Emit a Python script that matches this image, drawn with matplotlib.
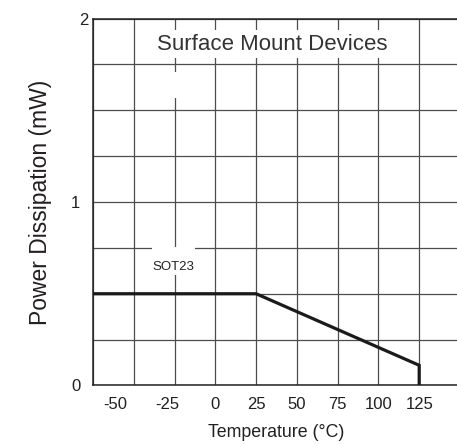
import matplotlib
matplotlib.use('Agg')
import matplotlib.pyplot as plt
from matplotlib.patches import Rectangle
from matplotlib.transforms import ScaledTranslation
from numpy import arange

# derating curve, SOT23
temp = [-75, 25, 125, 125]
power = [0.5, 0.5, 0.11, 0.0]

x_ticks = [-50, -25, 0, 25, 50, 75, 100, 125]
x_labels = ['-50', '-25', '0', '25', '50', '75', '100', '125']
y_ticks = [0, 1, 2]
y_labels = ['0', '1', '2']

title = 'Surface Mount Devices'
series_name = 'SOT23'

text_color = '#231f20'
grid_color = '#4d4d4d'

plt.rcParams['font.family'] = ['Liberation Sans', 'DejaVu Sans']

fig = plt.figure(figsize=(4.57, 4.44), dpi=100)
ax = fig.add_axes([0.2035, 0.1318, 0.803, 0.8265])

ax.plot(temp, power, color='#1a1a1a', lw=2.3, solid_joinstyle='miter', zorder=4)

ax.set_xlim(-75, 150)
ax.set_ylim(0, 2)

ax.set_xticks(x_ticks, x_labels)
ax.set_yticks(y_ticks, y_labels)
ax.set_xticks(arange(-75, 151, 25), minor=True)
ax.set_yticks(arange(0, 2.01, 0.25), minor=True)
ax.grid(which='both', color=grid_color, lw=0.9)
ax.set_axisbelow(True)

ax.tick_params(which='both', length=0)
ax.tick_params(axis='x', pad=8, labelsize=12, labelcolor=text_color)
ax.tick_params(axis='y', pad=9, labelsize=12, labelcolor=text_color)

for s in ax.spines.values():
  s.set_color('#222222')
  s.set_linewidth(1.1)

# the reference puts a few labels off their grid line
x_shift = {'-50': -19, '-25': -7}
for lab in ax.get_xticklabels():
  dx = x_shift.get(lab.get_text(), 0)
  if dx:
    lab.set_transform(lab.get_transform() + ScaledTranslation(dx / 100, 0, fig.dpi_scale_trans))
for lab in ax.get_yticklabels():
  if lab.get_text() == '2':
    lab.set_transform(lab.get_transform() + ScaledTranslation(8 / 100, 0, fig.dpi_scale_trans))

ax.set_xlabel('Temperature (°C)', fontsize=12.8, color=text_color, labelpad=9)
ax.set_ylabel('Power Dissipation (mW)', fontsize=16.5, color=text_color, labelpad=14)

ax.text(0.488, 0.93, title, transform=ax.transAxes, ha='center', va='center',
        fontsize=16, color='#333333', zorder=3,
        bbox=dict(boxstyle='square,pad=0.15', fc='white', ec='none'))

# white masks behind the series label, as in the scanned original
ax.add_patch(Rectangle((-38.8, 0.60), 26.3, 0.155, fc='white', ec='none', zorder=2))
ax.add_patch(Rectangle((-26.5, 1.567), 3, 0.14, fc='white', ec='none', zorder=2))
ax.text(-25.6, 0.645, series_name, ha='center', va='center', fontsize=9.5, color=text_color, zorder=3)

fig.savefig('out.png', dpi=100)
